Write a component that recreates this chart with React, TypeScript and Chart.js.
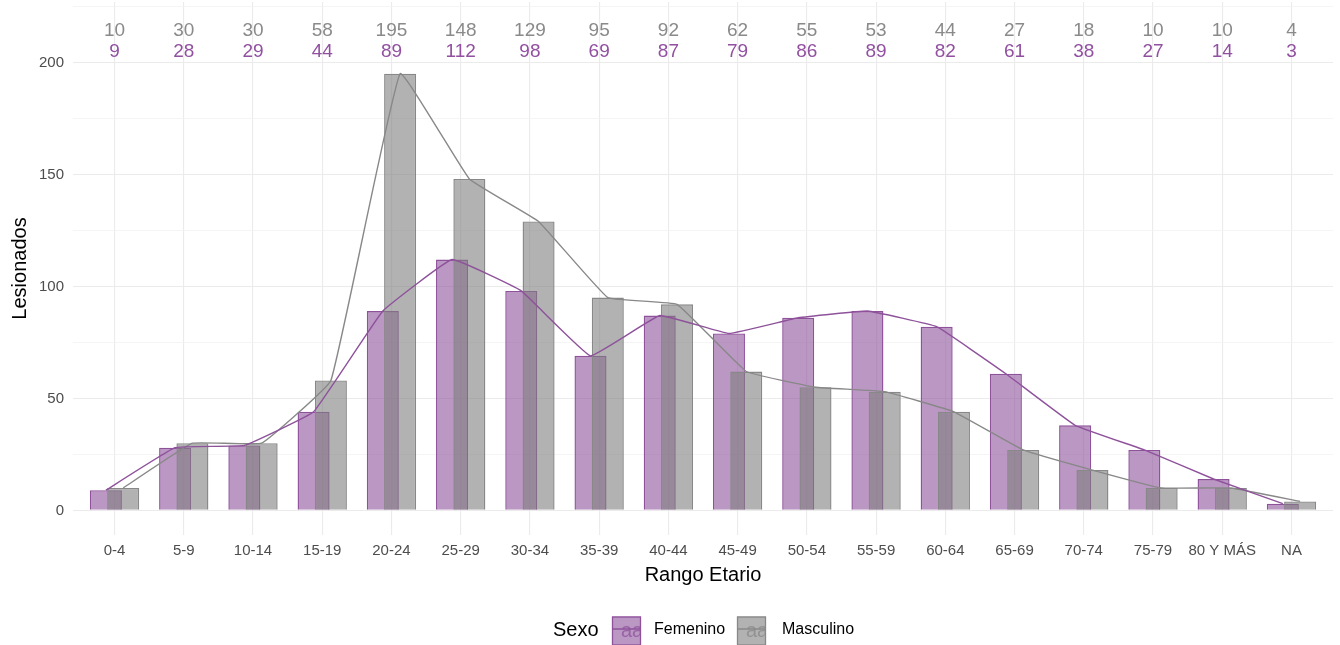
import React, { useEffect, useRef } from 'react';
import { Chart, registerables } from 'chart.js';

Chart.register(...registerables);

const categories = ['0-4', '5-9', '10-14', '15-19', '20-24', '25-29', '30-34', '35-39', '40-44', '45-49', '50-54', '55-59', '60-64', '65-69', '70-74', '75-79', '80 Y MÁS', 'NA'];
const femenino = [9, 28, 29, 44, 89, 112, 98, 69, 87, 79, 86, 89, 82, 61, 38, 27, 14, 3];
const masculino = [10, 30, 30, 58, 195, 148, 129, 95, 92, 62, 55, 53, 44, 27, 18, 10, 10, 4];
const yTickLabels = [0, 50, 100, 150, 200];
const yGridValues = [0, 25, 50, 75, 100, 125, 150, 175, 200, 225];
const seriesNames = ['Femenino', 'Masculino'];
const legendTitle = 'Sexo';
const xTitle = 'Rango Etario';
const yTitle = 'Lesionados';

const FONT = '"Liberation Sans", Arial, Helvetica, sans-serif';
const PURPLE = 'rgb(142,82,155)';
const PURPLE_FILL = 'rgba(142,82,155,0.6)';
const GREY = 'rgb(136,136,136)';
const GREY_FILL = 'rgba(127,127,127,0.6)';
const DODGE = 0.125;
const LABEL_Y_MASC = 214;
const LABEL_Y_FEM = 205;

const overlayPlugin = {
  id: 'overlay',
  afterDraw(chart: any) {
    const { ctx, chartArea, scales } = chart;
    const xs = scales.x;
    const ys = scales.y;
    ctx.save();
    // count labels at top
    ctx.font = `19px ${FONT}`;
    ctx.textAlign = 'center';
    ctx.textBaseline = 'middle';
    categories.forEach((_, i) => {
      const x = xs.getPixelForValue(i);
      ctx.fillStyle = 'rgb(138,138,138)';
      ctx.fillText(String(masculino[i]), x, ys.getPixelForValue(LABEL_Y_MASC));
      ctx.fillStyle = 'rgb(145,80,160)';
      ctx.fillText(String(femenino[i]), x, ys.getPixelForValue(LABEL_Y_FEM));
    });
    // axis titles
    ctx.fillStyle = '#000';
    ctx.font = `20px ${FONT}`;
    ctx.fillText(xTitle, (chartArea.left + chartArea.right) / 2, 575);
    ctx.save();
    ctx.translate(20, (chartArea.top + chartArea.bottom) / 2);
    ctx.rotate(-Math.PI / 2);
    ctx.fillText(yTitle, 0, 0);
    ctx.restore();
    // legend
    const ly = 630;
    ctx.textAlign = 'left';
    ctx.font = `20px ${FONT}`;
    ctx.fillStyle = '#000';
    ctx.fillText(legendTitle, 553, ly);
    const keys = [
      { x: 612, fill: PURPLE_FILL, stroke: PURPLE, label: seriesNames[0], lx: 654 },
      { x: 737, fill: GREY_FILL, stroke: GREY, label: seriesNames[1], lx: 782 },
    ];
    keys.forEach((k) => {
      const size = 29;
      const top = ly - size / 2 + 1;
      ctx.fillStyle = k.fill;
      ctx.fillRect(k.x, top, size, size);
      ctx.save();
      ctx.beginPath();
      ctx.rect(k.x, top, size, size);
      ctx.clip();
      ctx.strokeStyle = k.stroke;
      ctx.lineWidth = 1.3;
      ctx.beginPath();
      ctx.moveTo(k.x, ly - 1);
      ctx.lineTo(k.x + size, ly - 1);
      ctx.stroke();
      ctx.globalAlpha = 0.75;
      ctx.fillStyle = k.stroke;
      ctx.font = `20px ${FONT}`;
      ctx.textAlign = 'left';
      ctx.fillText('aa', k.x + 9, ly + 1);
      ctx.restore();
      ctx.strokeStyle = k.stroke;
      ctx.lineWidth = 1.3;
      ctx.strokeRect(k.x + 0.5, top + 0.5, size - 1, size - 1);
      ctx.fillStyle = '#000';
      ctx.font = `16px ${FONT}`;
      ctx.textAlign = 'left';
      ctx.fillText(k.label, k.lx, ly);
    });
    ctx.restore();
  },
};

export default function App() {
  const canvasRef = useRef<HTMLCanvasElement | null>(null);

  useEffect(() => {
    const canvas = canvasRef.current;
    if (!canvas) return;
    const femPts = femenino.map((y, i) => ({ x: i - DODGE, y }));
    const mascPts = masculino.map((y, i) => ({ x: i + DODGE, y }));
    const chart = new Chart(canvas, {
      type: 'bar',
      data: {
        datasets: [
          {
            type: 'line',
            label: seriesNames[0],
            data: femPts,
            borderColor: PURPLE,
            borderWidth: 1.4,
            pointRadius: 0,
            tension: 0.08,
            order: 0,
          } as any,
          {
            type: 'line',
            label: seriesNames[1],
            data: mascPts,
            borderColor: GREY,
            borderWidth: 1.4,
            pointRadius: 0,
            tension: 0.08,
            order: 1,
          } as any,
          {
            type: 'bar',
            label: seriesNames[1],
            data: mascPts,
            backgroundColor: GREY_FILL,
            borderColor: GREY,
            borderWidth: 1.4,
            grouped: false,
            categoryPercentage: 1,
            barPercentage: 1.85,
            order: 2,
          } as any,
          {
            type: 'bar',
            label: seriesNames[0],
            data: femPts,
            backgroundColor: PURPLE_FILL,
            borderColor: PURPLE,
            borderWidth: 1.4,
            grouped: false,
            categoryPercentage: 1,
            barPercentage: 1.85,
            order: 3,
          } as any,
        ],
      },
      options: {
        animation: false,
        responsive: false,
        layout: { padding: { top: 2, right: 7, left: 0, bottom: 0 } },
        plugins: { legend: { display: false }, tooltip: { enabled: false } },
        scales: {
          x: {
            type: 'linear',
            min: -0.6,
            max: categories.length - 1 + 0.6,
            offset: false,
            afterBuildTicks: (s: any) => {
              s.ticks = categories.map((_, i) => ({ value: i }));
            },
            afterFit: (s: any) => {
              s.height = 110;
              s.paddingLeft = 0;
              s.paddingRight = 0;
            },
            ticks: {
              autoSkip: false,
              maxRotation: 0,
              padding: 7,
              color: '#4D4D4D',
              font: { family: FONT, size: 15 },
              callback: (v: any) => categories[Math.round(Number(v))] ?? '',
            },
            grid: { color: '#EBEBEB', lineWidth: 1.1, drawTicks: false, offset: false },
            border: { display: false },
          },
          y: {
            type: 'linear',
            min: -11,
            max: 227,
            afterBuildTicks: (s: any) => {
              s.ticks = yGridValues.map((v) => ({ value: v }));
            },
            afterFit: (s: any) => {
              s.width = 73;
              s.paddingTop = 0;
              s.paddingBottom = 0;
            },
            ticks: {
              autoSkip: false,
              padding: 9,
              color: '#4D4D4D',
              font: { family: FONT, size: 15 },
              callback: (v: any) => (yTickLabels.includes(Number(v)) ? String(v) : ''),
            },
            grid: {
              drawTicks: false,
              color: (c: any) => (yTickLabels.includes(c.tick?.value) ? '#EBEBEB' : '#F3F3F3'),
              lineWidth: (c: any) => (yTickLabels.includes(c.tick?.value) ? 1.1 : 0.8),
            },
            border: { display: false },
          },
        },
      } as any,
      plugins: [overlayPlugin],
    });
    return () => chart.destroy();
  }, []);

  return (
    <div style={{ position: 'fixed', left: 0, top: 0, width: 1340, height: 645, background: '#fff' }}>
      <canvas ref={canvasRef} width={1340} height={645} style={{ display: 'block' }} />
    </div>
  );
}
